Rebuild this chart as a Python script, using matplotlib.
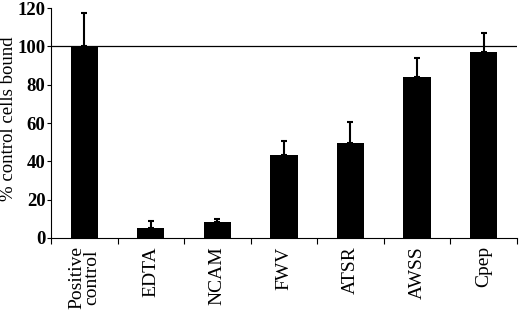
import matplotlib
matplotlib.use("Agg")
import matplotlib.pyplot as plt
import numpy as np

categories = ["Positive\ncontrol", "EDTA", "NCAM", "FWV", "ATSR", "AWSS", "Cpep"]
values = [100, 5.4, 8.2, 43.3, 49.7, 84.1, 97.2]
errors = [17.5, 3.6, 1.6, 7.3, 10.8, 9.9, 9.9]
yticks = [0, 20, 40, 60, 80, 100, 120]

serif = "Liberation Serif"
fig = plt.figure(figsize=(5.2, 3.13), dpi=100)
ax = fig.add_axes([0.098, 0.24, 0.896, 0.734])
x = np.arange(len(categories))
ax.bar(x, values, width=0.41, color="black", zorder=3)
ax.errorbar(x, values, yerr=[np.zeros(len(errors)), errors], fmt="none",
            ecolor="black", elinewidth=1.5, capsize=2.5, capthick=1.5, zorder=4)
ax.axhline(100, color="black", linewidth=0.9, zorder=2)
ax.set_xlim(-0.5, len(categories) - 0.5)
ax.set_ylim(0, 120)
ax.set_yticks(yticks)
ax.set_yticklabels([str(t) for t in yticks], fontfamily=serif,
                   fontsize=13.5, fontweight="bold")
ax.set_xticks(x)
ax.set_xticklabels(categories, rotation=90, fontfamily=serif,
                   fontsize=14, linespacing=0.85, va="top")
ax.tick_params(axis="x", length=0, pad=6)
ax.set_xticks(np.arange(len(categories) + 1) - 0.5, minor=True)
ax.tick_params(axis="x", which="minor", length=4, direction="out", width=0.8)
ax.tick_params(axis="y", length=3, direction="out", width=0.8, pad=1)
for s in ["top", "right"]:
    ax.spines[s].set_visible(False)
for s in ["left", "bottom"]:
    ax.spines[s].set_linewidth(0.8)
ax.set_ylabel("% control cells bound", fontfamily=serif, fontsize=13.5)
ax.yaxis.set_label_coords(-0.072, 0.52)
fig.savefig("out.png", dpi=100)
